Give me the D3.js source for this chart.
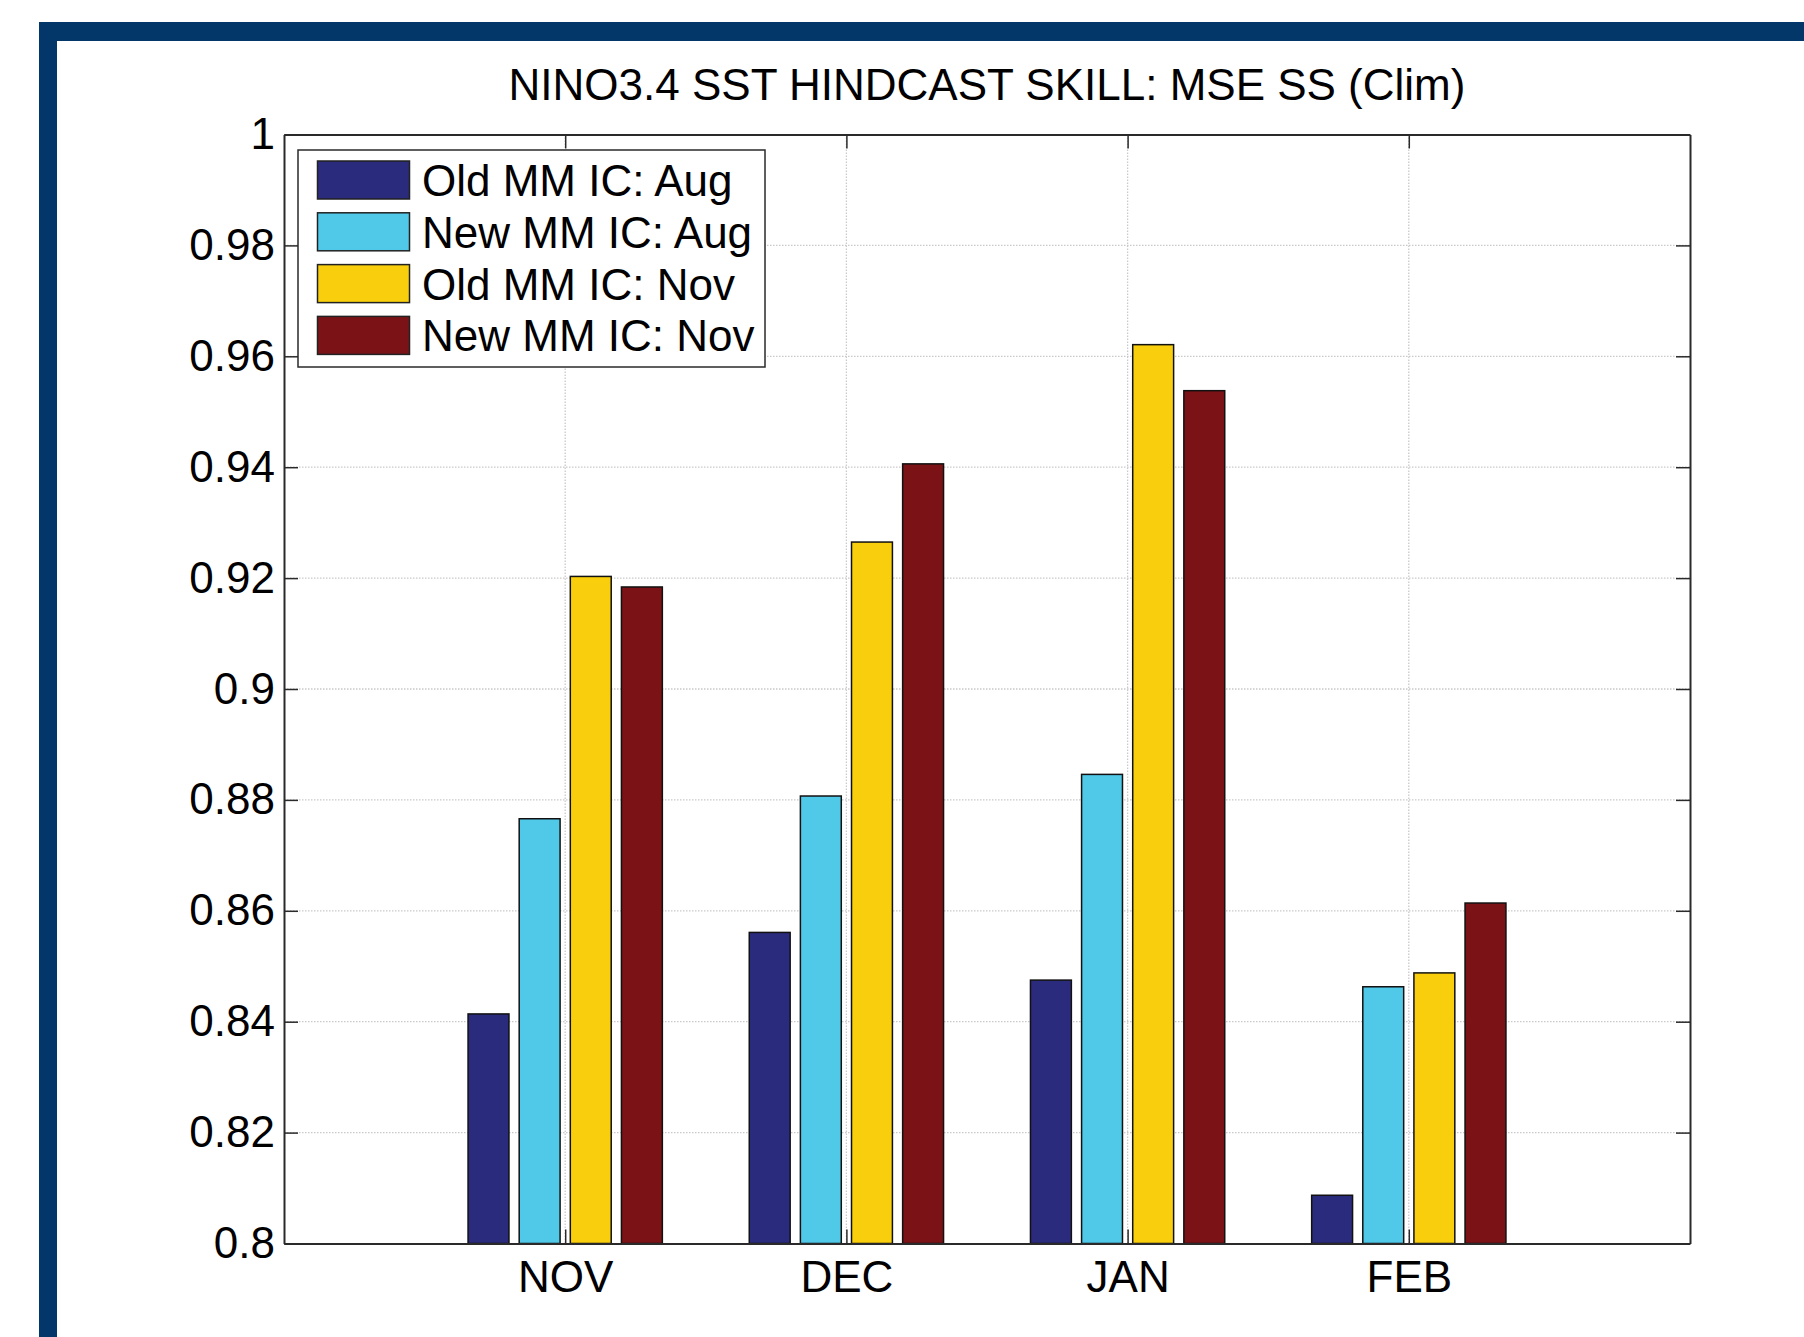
<!DOCTYPE html>
<html>
<head>
<meta charset="utf-8">
<script src="https://cdn.jsdelivr.net/npm/d3@7"></script>
<style>
  html, body { margin: 0; padding: 0; background: #ffffff; }
  svg { display: block; }
  text { font-family: "Liberation Sans", Arial, Helvetica, sans-serif; fill: #000; }
</style>
</head>
<body>
<svg id="chart" width="1804" height="1337"></svg>
<script>
// Lead months on the x axis
const categories = ["NOV", "DEC", "JAN", "FEB"];

// MSE skill score vs climatology, one array per forecast set
const oldAugIC = [0.8414, 0.8561, 0.8475, 0.8087];
const newAugIC = [0.8766, 0.8807, 0.8846, 0.8463];
const oldNovIC = [0.9203, 0.9265, 0.9621, 0.8488];
const newNovIC = [0.9184, 0.9406, 0.9538, 0.8614];

const seriesNames = ["Old MM IC: Aug", "New MM IC: Aug", "Old MM IC: Nov", "New MM IC: Nov"];
const seriesColors = ["#2b2b7e", "#50c8e8", "#f9cf0d", "#7b1316"];

// y axis tick values and their labels
const yTickValues = [0.8, 0.82, 0.84, 0.86, 0.88, 0.9, 0.92, 0.94, 0.96, 0.98, 1];
const yTickLabels = ["0.8", "0.82", "0.84", "0.86", "0.88", "0.9", "0.92", "0.94", "0.96", "0.98", "1"];

const titleText = "NINO3.4 SST HINDCAST SKILL: MSE SS (Clim)";

const series = [oldAugIC, newAugIC, oldNovIC, newNovIC];

const svg = d3.select("#chart");

// Navy frame around the figure (runs off the right and bottom edges)
const frame = svg.append("g");
frame.append("rect").attr("x", 39).attr("y", 22).attr("width", 1804 - 39).attr("height", 19).attr("fill", "#03376a");
frame.append("rect").attr("x", 39).attr("y", 22).attr("width", 18).attr("height", 1337 - 22).attr("fill", "#03376a");

const plot = { left: 284, right: 1690, top: 134.5, bottom: 1243.5 };

// Category positions 1..4 on a 0..5 axis, MATLAB-style grouped bars
const x = d3.scaleLinear().domain([0, categories.length + 1]).range([plot.left, plot.right]);
const y = d3.scaleLinear().domain([0.8, 1]).range([plot.bottom, plot.top]);

const nSeries = series.length;
const groupWidth = Math.min(0.8, nSeries / (nSeries + 1.5));
const slot = groupWidth / nSeries;
const barW = slot * 0.8;

// Grid lines
const grid = svg.append("g").attr("stroke", "#c9c9c9").attr("stroke-width", 1.3).attr("stroke-dasharray", "1.5,1.5");
grid.selectAll("line.gy").data(yTickValues.slice(1, -1)).join("line")
  .attr("x1", plot.left).attr("x2", plot.right)
  .attr("y1", d => y(d)).attr("y2", d => y(d));
grid.selectAll("line.gx").data(categories).join("line")
  .attr("x1", (d, i) => x(i + 1)).attr("x2", (d, i) => x(i + 1))
  .attr("y1", plot.top).attr("y2", plot.bottom);

// Bars
series.forEach((vals, s) => {
  const offset = (s - (nSeries - 1) / 2) * slot;
  svg.append("g").selectAll("rect").data(vals).join("rect")
    .attr("x", (d, i) => x(i + 1 + offset - barW / 2))
    .attr("width", x(barW) - x(0))
    .attr("y", d => y(d))
    .attr("height", d => y(0.8) - y(d))
    .attr("fill", seriesColors[s])
    .attr("stroke", "#111")
    .attr("stroke-width", 1.5);
});

// Axes box with inward ticks on all four sides
const axisColor = "#2a2a2a";
const tickLen = 14;
const yAxisL = d3.axisLeft(y).tickValues(yTickValues).tickFormat((d, i) => yTickLabels[i]).tickSizeInner(-tickLen).tickSizeOuter(0).tickPadding(9);
const yAxisR = d3.axisRight(y).tickValues(yTickValues).tickFormat("").tickSizeInner(-tickLen).tickSizeOuter(0);
const xAxisB = d3.axisBottom(x).tickValues([1, 2, 3, 4]).tickFormat(d => categories[d - 1]).tickSizeInner(-tickLen).tickSizeOuter(0).tickPadding(17);
const xAxisT = d3.axisTop(x).tickValues([1, 2, 3, 4]).tickFormat("").tickSizeInner(-tickLen).tickSizeOuter(0);

function styleAxis(g) {
  g.selectAll("path.domain").attr("stroke", axisColor).attr("stroke-width", 2);
  g.selectAll(".tick line").attr("stroke", axisColor).attr("stroke-width", 1.5);
  g.selectAll(".tick text").attr("font-size", 44).attr("fill", "#000")
    .attr("font-family", "'Liberation Sans', Arial, Helvetica, sans-serif");
}

svg.append("g").attr("transform", `translate(${plot.left},0)`).call(yAxisL).call(styleAxis);
svg.append("g").attr("transform", `translate(${plot.right},0)`).call(yAxisR).call(styleAxis);
svg.append("g").attr("transform", `translate(0,${plot.bottom})`).call(xAxisB).call(styleAxis);
svg.append("g").attr("transform", `translate(0,${plot.top})`).call(xAxisT).call(styleAxis);

// Title
svg.append("text")
  .attr("x", (plot.left + plot.right) / 2)
  .attr("y", 100)
  .attr("text-anchor", "middle")
  .attr("font-size", 44)
  .text(titleText);

// Legend
const legend = svg.append("g");
legend.append("rect")
  .attr("x", 298).attr("y", 150).attr("width", 467).attr("height", 217)
  .attr("fill", "#fff").attr("stroke", axisColor).attr("stroke-width", 1.5);
const rowStep = 51.8;
const rows = legend.selectAll("g.row").data(seriesNames).join("g")
  .attr("transform", (d, i) => `translate(0,${161 + i * rowStep})`);
rows.append("rect")
  .attr("x", 317.5).attr("y", 0).attr("width", 92).attr("height", 38)
  .attr("fill", (d, i) => seriesColors[i])
  .attr("stroke", "#222").attr("stroke-width", 1.5);
rows.append("text")
  .attr("x", 422).attr("y", 35)
  .attr("font-size", 44)
  .text(d => d);
</script>
</body>
</html>
